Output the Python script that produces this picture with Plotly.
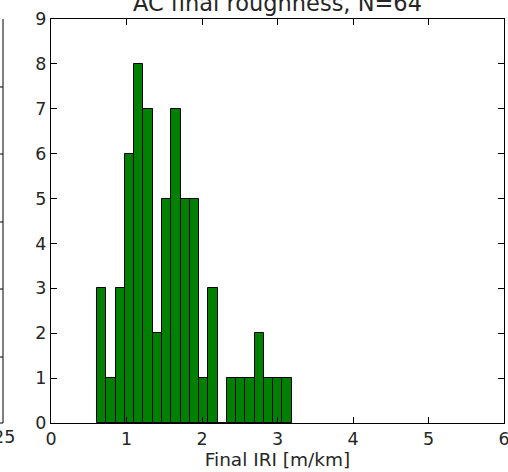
import plotly.graph_objects as go

# Histogram data
bin_start = 0.61
bin_width = 0.1228
counts = [3, 1, 3, 6, 8, 7, 2, 5, 7, 5, 5, 1, 3, 0, 1, 1, 1, 2, 1, 1, 1]
centers = [bin_start + bin_width * (i + 0.5) for i in range(len(counts))]

x_ticks = [0, 1, 2, 3, 4, 5, 6]
y_ticks = [0, 1, 2, 3, 4, 5, 6, 7, 8, 9]

W, H = 508, 472
L, R, T, B = 51, 4, 19, 49
pw, ph = W - L - R, H - T - B

FONT = "DejaVu Sans"
TXT = "#262626"

fig = go.Figure(go.Bar(
    x=centers, y=counts, width=bin_width,
    marker=dict(color="#008000", line=dict(color="black", width=1)),
))

axis_common = dict(
    showgrid=False, zeroline=False, showline=True, linecolor="black", linewidth=1,
    mirror="allticks", ticks="inside", ticklen=6, tickcolor="black", tickwidth=1,
    tickfont=dict(family=FONT, size=17.5, color=TXT), ticklabeloverflow="allow",
    automargin=False,
)
fig.update_xaxes(range=[0, 6], tickvals=x_ticks, ticktext=[str(v) for v in x_ticks],
                 title=dict(text="Final IRI [m/km]", font=dict(family=FONT, size=18.5, color=TXT), standoff=4),
                 **axis_common)
fig.update_yaxes(range=[0, 9], tickvals=y_ticks, ticktext=[str(v) for v in y_ticks], **axis_common)

# Remnant of the neighbouring subplot on the left
def px(xp):
    return (xp - L) / pw
def py(yp):
    return (H - B - yp) / ph

shapes = [
    dict(type="line", xref="paper", yref="paper", x0=px(3), x1=px(3), y0=py(19), y1=py(423),
         line=dict(color="black", width=1)),
    dict(type="line", xref="paper", yref="paper", x0=px(-2), x1=px(3), y0=py(423), y1=py(423),
         line=dict(color="black", width=1)),
]
for yy in [87, 154, 222, 289, 357]:
    shapes.append(dict(type="line", xref="paper", yref="paper", x0=px(-3), x1=px(3), y0=py(yy), y1=py(yy),
                       line=dict(color="black", width=1)))

annotations = [
    dict(text="AC final roughness, N=64", xref="paper", yref="paper", x=0.5, y=1, yanchor="bottom",
         xanchor="center", yshift=1, showarrow=False, font=dict(family=FONT, size=22.5, color=TXT)),
    dict(text="25", xref="paper", yref="paper", x=px(17), y=py(437), xanchor="right", yanchor="middle",
         showarrow=False, font=dict(family=FONT, size=17.5, color=TXT)),
]

fig.update_layout(
    width=W, height=H, margin=dict(l=L, r=R, t=T, b=B, autoexpand=False),
    paper_bgcolor="white", plot_bgcolor="white", showlegend=False, bargap=0,
    shapes=shapes, annotations=annotations, font=dict(family=FONT),
)

fig.write_html("out.html")
